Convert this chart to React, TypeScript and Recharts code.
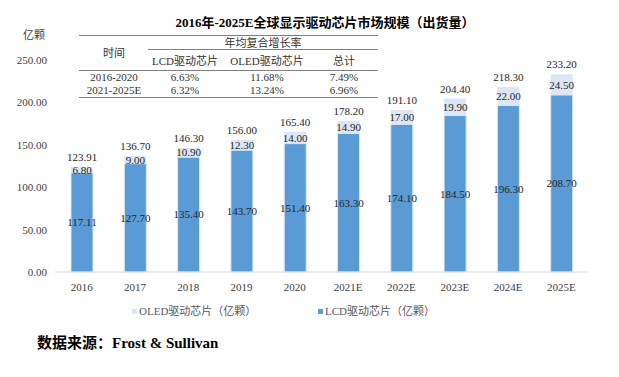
import { BarChart, Bar, XAxis, YAxis, LabelList } from 'recharts';

const years = ['2016', '2017', '2018', '2019', '2020', '2021E', '2022E', '2023E', '2024E', '2025E'];
const lcdValues = [117.11, 127.7, 135.4, 143.7, 151.4, 163.3, 174.1, 184.5, 196.3, 208.7];
const oledValues = [6.8, 9.0, 10.9, 12.3, 14.0, 14.9, 17.0, 19.9, 22.0, 24.5];
const totalValues = [123.91, 136.7, 146.3, 156.0, 165.4, 178.2, 191.1, 204.4, 218.3, 233.2];
const yTicks = [0, 50, 100, 150, 200, 250];

const cagrRows = [
    { period: '2016-2020', lcd: '6.63%', oled: '11.68%', total: '7.49%' },
    { period: '2021-2025E', lcd: '6.32%', oled: '13.24%', total: '6.96%' },
];

const data = years.map((y, i) => ({
    year: y,
    lcd: lcdValues[i],
    oled: oledValues[i],
    total: totalValues[i],
}));

const FONT = '"Liberation Serif", "Noto Sans CJK SC", serif';
const LCD_COLOR = '#5B9BD5';
const OLED_COLOR = '#DCE6F4';

const fmt = (v: any) => Number(v).toFixed(2);

function Txt({ x, y, children, style = {} }: { x: number; y: number; children: any; style?: any }) {
    return (
        <div
            style={{
                position: 'absolute',
                left: x,
                top: y,
                transform: 'translate(-50%, -50%)',
                whiteSpace: 'nowrap',
                fontSize: 11,
                color: '#333',
                lineHeight: 1,
                ...style,
            }}
        >
            {children}
        </div>
    );
}

function HLine({ x1, x2, y }: { x1: number; x2: number; y: number }) {
    return <div style={{ position: 'absolute', left: x1, top: y, width: x2 - x1, height: 1, background: '#808080' }} />;
}

export default function App() {
    return (
        <div style={{ position: 'fixed', left: 0, top: 0, width: 619, height: 377, background: '#fff', fontFamily: FONT }}>
            <BarChart
                width={619}
                height={377}
                data={data}
                margin={{ top: 60, right: 31, left: 0, bottom: 75 }}
                barSize={22}
            >
                <XAxis
                    dataKey="year"
                    height={30}
                    tickLine={false}
                    axisLine={{ stroke: '#D9D9D9' }}
                    tick={{ fill: '#404040', fontSize: 11, fontFamily: FONT }}
                    tickMargin={5}
                />
                <YAxis
                    width={55}
                    domain={[0, 250]}
                    ticks={yTicks}
                    tickFormatter={fmt}
                    axisLine={false}
                    tickLine={false}
                    tick={{ fill: '#404040', fontSize: 11, fontFamily: FONT }}
                />
                <Bar dataKey="lcd" stackId="a" fill={LCD_COLOR} stroke={OLED_COLOR} strokeWidth={1} isAnimationActive={false}>
                    <LabelList dataKey="lcd" position="center" formatter={fmt} style={{ fill: '#262626', fontSize: 11, fontFamily: FONT }} />
                </Bar>
                <Bar dataKey="oled" stackId="a" fill={OLED_COLOR} isAnimationActive={false}>
                    <LabelList dataKey="oled" position="center" formatter={fmt} style={{ fill: '#262626', fontSize: 11, fontFamily: FONT }} />
                    <LabelList dataKey="total" position="top" offset={6} formatter={fmt} style={{ fill: '#262626', fontSize: 11, fontFamily: FONT }} />
                </Bar>
            </BarChart>

            {/* title */}
            <Txt x={325} y={22} style={{ fontSize: 13, fontWeight: 'bold', color: '#000' }}>
                2016年-2025E全球显示驱动芯片市场规模（出货量）
            </Txt>
            <Txt x={34} y={35} style={{ color: '#404040' }}>亿颗</Txt>

            {/* CAGR table */}
            <HLine x1={79} x2={378} y={35} />
            <HLine x1={148} x2={378} y={49} />
            <HLine x1={79} x2={378} y={70} />
            <HLine x1={79} x2={378} y={97} />
            <Txt x={263} y={43}>年均复合增长率</Txt>
            <Txt x={114} y={53}>时间</Txt>
            <Txt x={185} y={61}>LCD驱动芯片</Txt>
            <Txt x={267} y={61}>OLED驱动芯片</Txt>
            <Txt x={344} y={61}>总计</Txt>
            {cagrRows.map((r, i) => (
                <div key={r.period}>
                    <Txt x={114} y={77 + i * 13}>{r.period}</Txt>
                    <Txt x={185} y={77 + i * 13}>{r.lcd}</Txt>
                    <Txt x={267} y={77 + i * 13}>{r.oled}</Txt>
                    <Txt x={344} y={77 + i * 13}>{r.total}</Txt>
                </div>
            ))}

            {/* legend */}
            <div style={{ position: 'absolute', left: 132, top: 309, width: 5, height: 5, background: OLED_COLOR }} />
            <div style={{ position: 'absolute', left: 139, top: 305, fontSize: 11, color: '#595959', whiteSpace: 'nowrap', lineHeight: '13px' }}>
                OLED驱动芯片（亿颗）
            </div>
            <div style={{ position: 'absolute', left: 318, top: 309, width: 5, height: 5, background: LCD_COLOR }} />
            <div style={{ position: 'absolute', left: 325, top: 305, fontSize: 11, color: '#595959', whiteSpace: 'nowrap', lineHeight: '13px' }}>
                LCD驱动芯片（亿颗）
            </div>

            {/* source */}
            <div style={{ position: 'absolute', left: 37, top: 334, fontSize: 15, fontWeight: 'bold', color: '#000', whiteSpace: 'nowrap', lineHeight: '18px' }}>
                数据来源：Frost &amp; Sullivan
            </div>
        </div>
    );
}
